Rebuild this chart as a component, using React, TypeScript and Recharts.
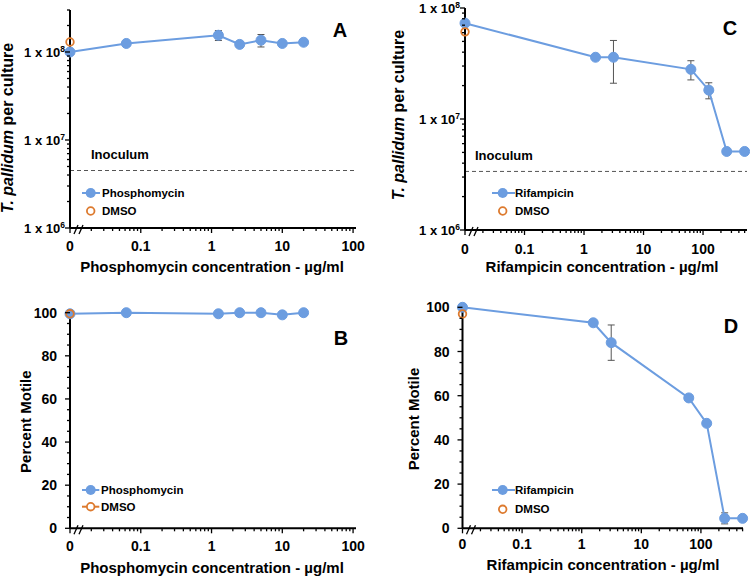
import React from 'react';
import { LineChart, Line, XAxis, YAxis, ErrorBar, ReferenceLine, Legend } from 'recharts';

const BLUE = '#6C9DE0';
const ORANGE = '#DD7A2E';
const FONT = '"Liberation Sans", Arial, Helvetica, sans-serif';

// zero concentration is plotted at the origin of the log axis
const ZERO_POS = 0.01;

// Phosphomycin (panels A, B)
const phosConc = [0, 0.0625, 1.25, 2.5, 5, 10, 20];
const phosCount = [1.0e8, 1.25e8, 1.55e8, 1.22e8, 1.36e8, 1.25e8, 1.29e8];
const phosCountErr = [0, 0, 0.2e8, 0, 0.22e8, 0, 0];
const phosMotile = [99.5, 100, 99.5, 100, 100, 99, 100];
const phosDmsoCount = 1.3e8;
const phosDmsoMotile = 99.5;
const phosInoculum = 4.5e6;

// Rifampicin (panels C, D)
const rifConc = [0, 1.5625, 3.125, 62.5, 125, 250, 500];
const rifCount = [7.3e7, 3.6e7, 3.6e7, 2.8e7, 1.82e7, 5.1e6, 5.1e6];
const rifCountErr = [0, 0, 1.5e7, 0.55e7, 0.3e7, 0, 0];
const rifMotile = [100, 93, 84, 59, 47.5, 4.5, 4.5];
const rifMotileErr = [0, 0, 8, 0, 0, 2.5, 0];
const rifDmsoCount = 6.1e7;
const rifDmsoMotile = 97;
const rifInoculum = 3.37e6;

const xMajor = [0.01, 0.1, 1, 10, 100];
const xTickLabels = ['0', '0.1', '1', '10', '100'];
const countMajor = [1e6, 1e7, 1e8];
const motileMajor = [0, 20, 40, 60, 80, 100];
const motileMinor = [5, 10, 15, 25, 30, 35, 45, 50, 55, 65, 70, 75, 85, 90, 95];

type Pt = { x: number; y: number; err: number };

const points = (conc: number[], vals: number[], errs?: number[]): Pt[] =>
  conc.map((c, i) => ({ x: c === 0 ? ZERO_POS : c, y: vals[i], err: errs ? errs[i] : 0 }));

// minor ticks of a log axis (2..9 x 10^n)
function logMinor(lo: number, hi: number) {
  const out: number[] = [];
  for (let e = Math.floor(Math.log10(lo)); e <= Math.ceil(Math.log10(hi)); e++) {
    for (let m = 2; m <= 9; m++) {
      const v = +(m * Math.pow(10, e)).toPrecision(6);
      if (v > lo && v <= hi) out.push(v);
    }
  }
  return out;
}

const sorted = (a: number[]) => [...a].sort((p, q) => p - q);

function ConcTick(props: any) {
  const { x, y, payload, labelDy } = props;
  const i = xMajor.indexOf(payload.value);
  const major = i >= 0;
  return (
    <g>
      <line x1={x} x2={x} y1={y} y2={y + (major ? 5 : 3)} stroke="#000" strokeWidth={1.3} />
      {major && (
        <text x={x} y={y + labelDy} textAnchor="middle" fontSize={14} fontWeight="bold" fontFamily={FONT} fill="#000">
          {xTickLabels[i]}
        </text>
      )}
      {i === 0 && (
        <g stroke="#000" strokeWidth={1.3}>
          <line x1={x + 4} y1={y + 6} x2={x + 8} y2={y - 3} />
          <line x1={x + 9} y1={y + 6} x2={x + 13} y2={y - 3} />
        </g>
      )}
    </g>
  );
}

function CountTick(props: any) {
  const { x, y, payload } = props;
  const v = payload.value;
  const major = countMajor.includes(v);
  return (
    <g>
      <line x1={x} x2={x - (major ? 5 : 3)} y1={y} y2={y} stroke="#000" strokeWidth={1.3} />
      {major && (
        <text x={x - 5} y={y + 5} textAnchor="end" fontSize={13} fontWeight="bold" fontFamily={FONT} fill="#000">
          1 x 10<tspan dy={-5} fontSize={8.5}>{Math.round(Math.log10(v))}</tspan>
        </text>
      )}
    </g>
  );
}

function MotileTick(props: any) {
  const { x, y, payload } = props;
  const major = motileMajor.includes(payload.value);
  return (
    <g>
      <line x1={x} x2={x - (major ? 5 : 3)} y1={y} y2={y} stroke="#000" strokeWidth={1.3} />
      {major && (
        <text x={x - 13} y={y + 5} textAnchor="end" fontSize={14} fontWeight="bold" fontFamily={FONT} fill="#000">
          {payload.value}
        </text>
      )}
    </g>
  );
}

type LegendCfg = { x: number; y: number; lineEnd: number; dotX: number; textX: number; gap: number; dmsoLine: boolean };

function LegendBox({ drug, lg }: { drug: string; lg: LegendCfg }) {
  const y2 = 9 + lg.gap;
  return (
    <svg width={160} height={40} style={{ display: 'block', overflow: 'visible' }}>
      <line x1={0} x2={lg.lineEnd} y1={9} y2={9} stroke={BLUE} strokeWidth={2} />
      <circle cx={lg.dotX} cy={9} r={5} fill={BLUE} />
      <text x={lg.textX} y={13} fontSize={11.5} fontWeight="bold" fontFamily={FONT} fill="#000">{drug}</text>
      {lg.dmsoLine && <line x1={0} x2={lg.lineEnd} y1={y2} y2={y2} stroke={ORANGE} strokeWidth={2} />}
      <circle cx={lg.dotX} cy={y2} r={3.8} fill="#fff" stroke={ORANGE} strokeWidth={1.8} />
      <text x={lg.textX} y={y2 + 4} fontSize={11.5} fontWeight="bold" fontFamily={FONT} fill="#000">DMSO</text>
    </svg>
  );
}

type PanelProps = {
  letter: string;
  letterPos: [number, number];
  left: number;
  top: number;
  w: number;
  h: number;
  plot: { l: number; r: number; t: number; b: number };
  xMax: number;
  kind: 'count' | 'motile';
  yMax: number;
  yTitlePos: [number, number];
  xTitle: string;
  xTitlePos: [number, number];
  xLabelDy: number;
  drug: string;
  pts: Pt[];
  dmso: Pt[];
  inoculum?: number;
  inocDx?: number;
  lg: LegendCfg;
};

function Panel(p: PanelProps) {
  const xTicks = sorted([...xMajor.filter((t) => t <= p.xMax), ...logMinor(ZERO_POS, p.xMax)]);
  const isCount = p.kind === 'count';
  const yTicks = isCount
    ? sorted([...countMajor, ...logMinor(1e6, p.yMax)])
    : sorted([...motileMajor, ...motileMinor]);
  const [tx, ty] = p.yTitlePos;

  return (
    <div style={{ position: 'absolute', left: p.left, top: p.top, width: p.w, height: p.h }}>
      <LineChart
        width={p.w}
        height={p.h}
        margin={{ top: p.plot.t, right: p.w - p.plot.r, bottom: p.h - p.plot.b - 40, left: 0 }}
      >
        <XAxis
          type="number"
          dataKey="x"
          scale="log"
          domain={[ZERO_POS, p.xMax]}
          ticks={xTicks}
          interval={0}
          tickSize={0}
          tickMargin={0}
          tickLine={false}
          axisLine={{ stroke: '#000', strokeWidth: 2 }}
          tick={(t: any) => <ConcTick {...t} labelDy={p.xLabelDy} />}
          height={40}
          label={() => (
            <text
              x={p.xTitlePos[0]}
              y={p.xTitlePos[1]}
              textAnchor="middle"
              fontSize={15}
              fontWeight="bold"
              fontFamily={FONT}
              fill="#000"
            >
              {p.xTitle}
            </text>
          )}
        />
        <YAxis
          type="number"
          dataKey="y"
          scale={isCount ? 'log' : 'linear'}
          domain={isCount ? [1e6, p.yMax] : [0, 100]}
          ticks={yTicks}
          interval={0}
          tickSize={0}
          tickMargin={0}
          tickLine={false}
          axisLine={{ stroke: '#000', strokeWidth: 2 }}
          tick={isCount ? (t: any) => <CountTick {...t} /> : (t: any) => <MotileTick {...t} />}
          width={p.plot.l}
          label={() => (
            <text
              transform={`rotate(-90 ${tx} ${ty})`}
              x={tx}
              y={ty}
              textAnchor="middle"
              fontSize={isCount ? 16 : 15}
              fontWeight="bold"
              fontFamily={FONT}
              fill="#000"
            >
              {isCount ? (
                <>
                  <tspan fontStyle="italic">T. pallidum</tspan> per culture
                </>
              ) : (
                'Percent Motile'
              )}
            </text>
          )}
        />
        {p.inoculum !== undefined && (
          <ReferenceLine
            y={p.inoculum}
            stroke="#555"
            strokeWidth={1}
            strokeDasharray="4 3"
            label={(lp: any) => {
              const vb = lp.viewBox || { x: p.plot.l, y: 0 };
              return (
                <text
                  x={vb.x + (p.inocDx ?? 10)}
                  y={vb.y - 11.5}
                  fontSize={13}
                  fontWeight="bold"
                  fontFamily={FONT}
                  fill="#000"
                >
                  Inoculum
                </text>
              );
            }}
          />
        )}
        <Line
          data={p.pts}
          dataKey="y"
          name={p.drug}
          stroke={BLUE}
          strokeWidth={2}
          dot={{ r: 5, fill: BLUE, stroke: BLUE, strokeWidth: 1 }}
          activeDot={false}
          isAnimationActive={false}
        >
          <ErrorBar dataKey="err" direction="y" width={3.5} stroke="#555" strokeWidth={1} />
        </Line>
        <Line
          data={p.dmso}
          dataKey="y"
          name="DMSO"
          stroke={ORANGE}
          strokeWidth={2}
          dot={{ r: 3.8, fill: 'none', stroke: ORANGE, strokeWidth: 1.8 }}
          activeDot={false}
          isAnimationActive={false}
        />
        <Legend
          layout="vertical"
          align="center"
          verticalAlign="middle"
          wrapperStyle={{ left: p.lg.x, top: p.lg.y, width: 160, height: 40 }}
          content={() => <LegendBox drug={p.drug} lg={p.lg} />}
        />
      </LineChart>
      <svg width={p.w} height={p.h} style={{ position: 'absolute', left: 0, top: 0, pointerEvents: 'none' }}>
        <text
          x={p.letterPos[0]}
          y={p.letterPos[1]}
          textAnchor="middle"
          fontSize={20}
          fontWeight="bold"
          fontFamily={FONT}
          fill="#000"
        >
          {p.letter}
        </text>
      </svg>
    </div>
  );
}

export default function App() {
  return (
    <div style={{ position: 'absolute', left: 0, top: 0, width: 750, height: 577, background: '#fff' }}>
      <Panel
        letter="A"
        letterPos={[340, 37]}
        left={0}
        top={0}
        w={375}
        h={290}
        plot={{ l: 70, r: 356, t: 10, b: 228 }}
        xMax={110}
        kind="count"
        yMax={3e8}
        yTitlePos={[13, 128]}
        xTitle="Phosphomycin concentration - µg/ml"
        xTitlePos={[212, 272]}
        xLabelDy={23}
        drug="Phosphomycin"
        pts={points(phosConc, phosCount, phosCountErr)}
        dmso={points([0], [phosDmsoCount])}
        inoculum={phosInoculum}
        inocDx={21}
        lg={{ x: 82, y: 184, lineEnd: 18, dotX: 8.7, textX: 20, gap: 18, dmsoLine: false }}
      />
      <Panel
        letter="C"
        letterPos={[355, 35]}
        left={375}
        top={0}
        w={375}
        h={290}
        plot={{ l: 90, r: 372, t: 8, b: 230 }}
        xMax={548}
        kind="count"
        yMax={1e8}
        yTitlePos={[29, 115]}
        xTitle="Rifampicin concentration - µg/ml"
        xTitlePos={[227, 272]}
        xLabelDy={24}
        drug="Rifampicin"
        pts={points(rifConc, rifCount, rifCountErr)}
        dmso={points([0], [rifDmsoCount])}
        inoculum={rifInoculum}
        inocDx={10}
        lg={{ x: 117, y: 184, lineEnd: 23, dotX: 10.7, textX: 23, gap: 18, dmsoLine: false }}
      />
      <Panel
        letter="B"
        letterPos={[341, 55]}
        left={0}
        top={290}
        w={375}
        h={287}
        plot={{ l: 70, r: 356, t: 22.7, b: 238.3 }}
        xMax={110}
        kind="motile"
        yMax={100}
        yTitlePos={[31.5, 131.7]}
        xTitle="Phosphomycin concentration - µg/ml"
        xTitlePos={[212, 283]}
        xLabelDy={23}
        drug="Phosphomycin"
        pts={points(phosConc, phosMotile)}
        dmso={points([0], [phosDmsoMotile])}
        lg={{ x: 82, y: 191, lineEnd: 17.3, dotX: 8.7, textX: 19, gap: 16.7, dmsoLine: true }}
      />
      <Panel
        letter="D"
        letterPos={[356, 43.3]}
        left={375}
        top={290}
        w={375}
        h={287}
        plot={{ l: 87.5, r: 368, t: 17.3, b: 238.3 }}
        xMax={508}
        kind="motile"
        yMax={100}
        yTitlePos={[44, 129]}
        xTitle="Rifampicin concentration - µg/ml"
        xTitlePos={[228, 280]}
        xLabelDy={21}
        drug="Rifampicin"
        pts={points(rifConc, rifMotile, rifMotileErr)}
        dmso={points([0], [rifDmsoMotile])}
        lg={{ x: 117, y: 191, lineEnd: 23, dotX: 10.7, textX: 23, gap: 19.3, dmsoLine: false }}
      />
    </div>
  );
}
